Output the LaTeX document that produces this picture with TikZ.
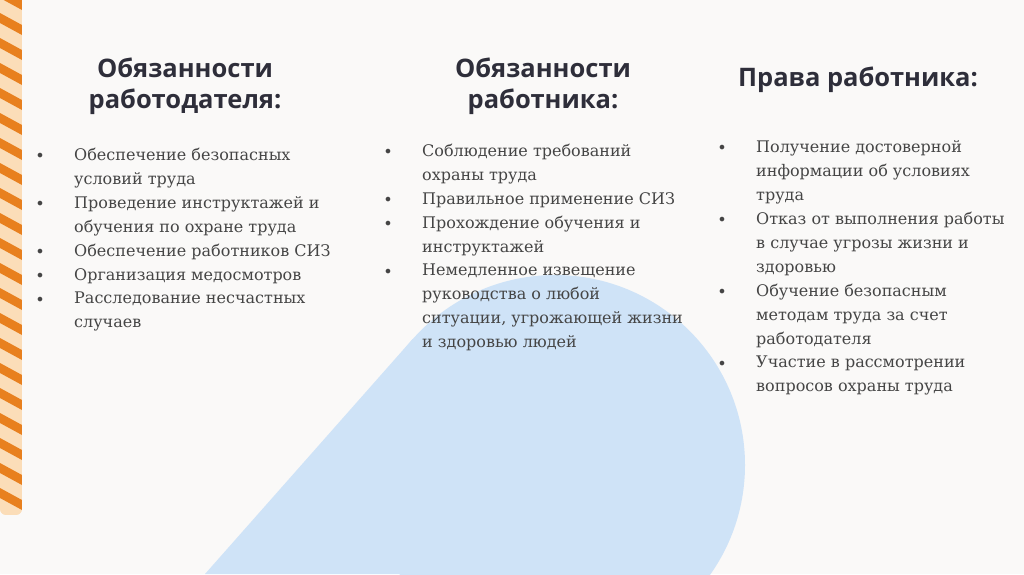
\documentclass[tikz,border=0pt]{standalone}
\usepackage{fontspec}
\setmainfont{DejaVu Serif}
\newfontfamily\headf{Open Sans}
\definecolor{bg}{HTML}{FAF9F8}
\definecolor{blu}{HTML}{CFE3F7}
\definecolor{org}{HTML}{E8801E}
\definecolor{pal}{HTML}{FBDDB8}
\definecolor{hd}{HTML}{2E2E3A}
\definecolor{tx}{HTML}{454545}
\begin{document}
\begin{tikzpicture}[x=1pt,y=-1pt,
 head/.style={font=\headf\bfseries\fontsize{25.5}{31}\selectfont,text=hd,align=center,inner sep=0},
 item/.style={font=\fontsize{16}{24}\selectfont,text=tx,align=left,anchor=north west,inner sep=0},
 bul/.style={font=\fontsize{16}{24}\selectfont,text=tx,anchor=center,inner sep=0}]
\useasboundingbox (0,0) rectangle (1024,574);
\fill[bg] (0,0) rectangle (1024,574);
\begin{scope}
\clip (0,0) rectangle (1024,574);
\fill[blu] (205,574) -- (412.7,339) -- (555,465) -- (555,574) -- cycle;
\fill[blu] (555,465) circle (190);
\end{scope}
\begin{scope}
\clip[rounded corners=6] (0,-10) rectangle (22,515);
\fill[pal] (0,-10) rectangle (22,515);
\foreach \i in {0,...,22}{
 \fill[org] (0,\i*25-12) -- (22,\i*25) -- (22,\i*25+10) -- (0,\i*25-2) -- cycle;}
\end{scope}
\node[head] (h1) at (185,86) {Обязанности\\работодателя:};
\node[head] (h2) at (543,86) {Обязанности\\работника:};
\node[head] (h3) at (858,80) {Права работника:};
\foreach \y/\t in {148/{Обеспечение безопасных\\условий труда},
 196/{Проведение инструктажей и\\обучения по охране труда},
 244/{Обеспечение работников СИЗ},
 268/{Организация медосмотров},
 292/{Расследование несчастных\\случаев}}{
 \node[bul] at (40,\y+9) {•}; \node[item] at (74,\y) {\t};}
\foreach \y/\t in {144/{Соблюдение требований\\охраны труда},
 192/{Правильное применение СИЗ},
 216/{Прохождение обучения и\\инструктажей},
 264/{Немедленное извещение\\руководства о любой\\ситуации, угрожающей жизни\\и здоровью людей}}{
 \node[bul] at (388,\y+9) {•}; \node[item] at (422,\y) {\t};}
\foreach \y/\t in {140/{Получение достоверной\\информации об условиях\\труда},
 212/{Отказ от выполнения работы\\в случае угрозы жизни и\\здоровью},
 284/{Обучение безопасным\\методам труда за счет\\работодателя},
 356/{Участие в рассмотрении\\вопросов охраны труда}}{
 \node[bul] at (722,\y+9) {•}; \node[item] at (756,\y) {\t};}
\end{tikzpicture}
\end{document}
